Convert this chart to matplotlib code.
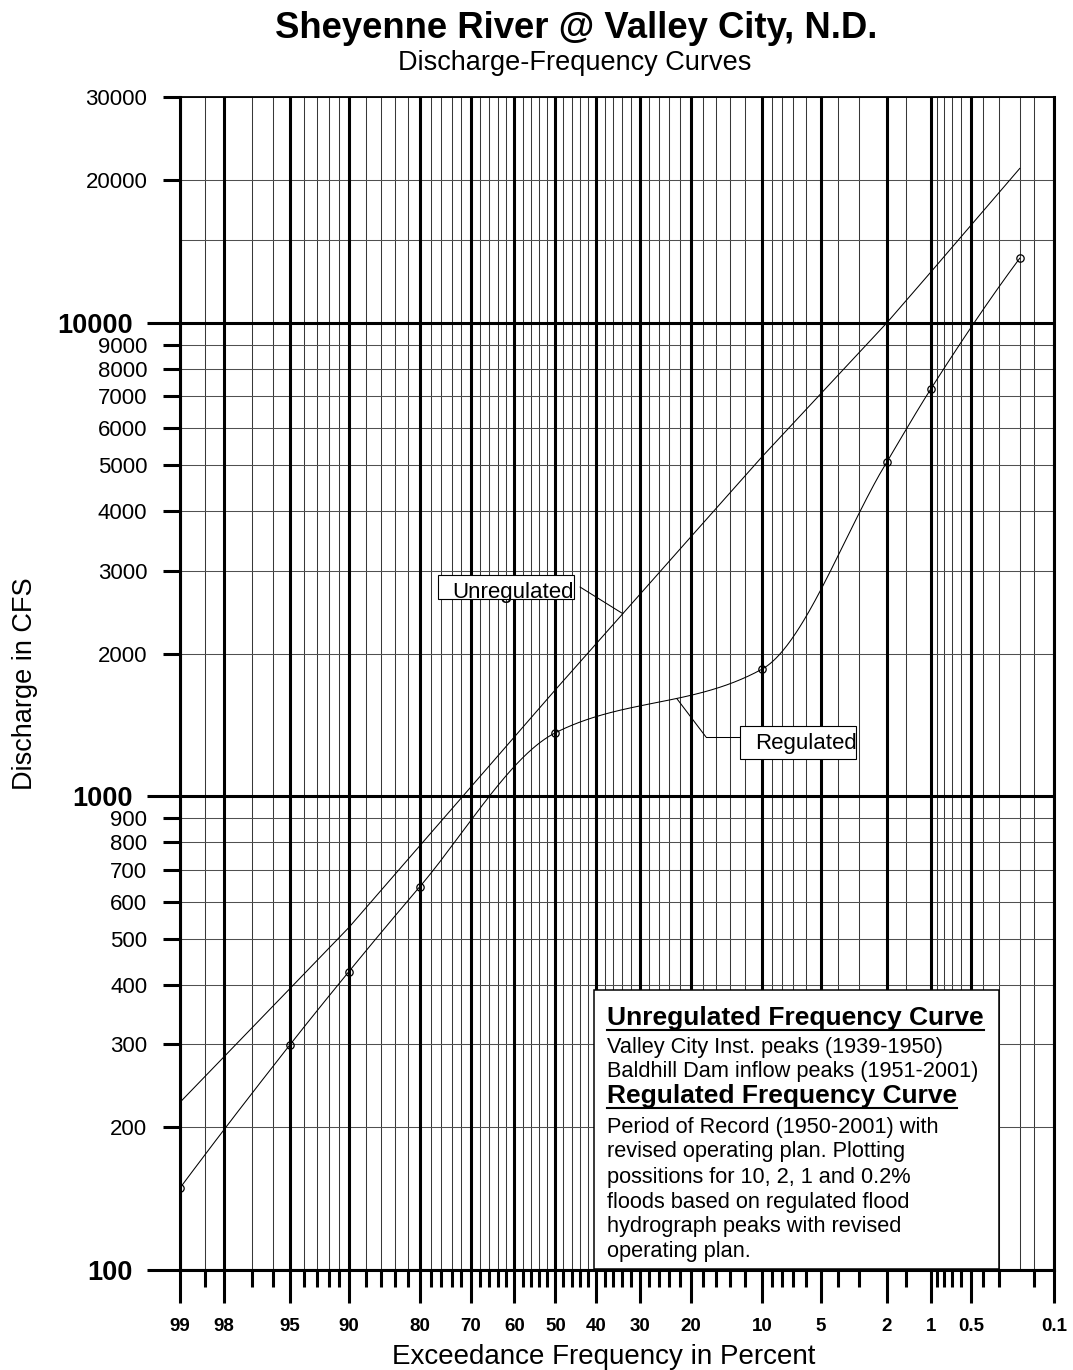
import matplotlib
matplotlib.use("Agg")
import matplotlib.pyplot as plt
import numpy as np
from statistics import NormalDist
from matplotlib.patches import Rectangle
from matplotlib.lines import Line2D

plt.rcParams['font.family'] = ['Liberation Sans', 'DejaVu Sans']

W, H = 1073, 1370

# regulated curve: plotted positions (exceedance %) and discharge (cfs)
reg_freq = [99, 95, 90, 80, 50, 10, 2, 1, 0.2]
regulated = [149, 299, 426, 644, 1363, 1858, 5085, 7250, 13700]

# unregulated frequency curve
unreg_freq = [99, 95, 90, 80, 50, 20, 10, 2, 1, 0.2]
unregulated = [226, 393, 528, 786, 1680, 3540, 5220, 10000, 12800, 21200]

# probability-paper grid
x_major = [99, 98, 95, 90, 80, 70, 60, 50, 40, 30, 20, 10, 5, 2, 1, 0.5, 0.1]
x_major_labels = ['99', '98', '95', '90', '80', '70', '60', '50', '40', '30',
                  '20', '10', '5', '2', '1', '0.5', '0.1']
x_minor = [98.5, 97, 96, 94, 93, 92, 91, 88, 86, 84, 82, 78, 76, 74, 72,
           68, 66, 64, 62, 58, 56, 54, 52, 48, 46, 44, 42, 38, 36, 34, 32,
           28, 26, 24, 22, 18, 16, 14, 12, 9, 8, 7, 6, 4, 3, 1.5,
           0.9, 0.8, 0.7, 0.6, 0.4, 0.3, 0.15]
x_grid_extra = [0.2]

y_major = [100, 1000, 10000]
y_minor = [200, 300, 400, 500, 600, 700, 800, 900,
           2000, 3000, 4000, 5000, 6000, 7000, 8000, 9000, 20000, 30000]
y_grid_extra = [15000]

nd = NormalDist()
_ppf = np.vectorize(nd.inv_cdf, otypes=[float])
_cdf = np.vectorize(nd.cdf, otypes=[float])


# normal-probability scale: exceedance percent -> standard normal deviate
def to_z(p):
    p = np.clip(np.asarray(p, dtype=float), 1e-7, 100 - 1e-7)
    return _ppf(p / 100.0)


def from_z(z):
    return 100.0 * _cdf(np.asarray(z, dtype=float))


def pchip(x, y, xs):
    # shape-preserving cubic through the points (Fritsch-Carlson slopes)
    x = np.asarray(x, float)
    y = np.asarray(y, float)
    order = np.argsort(x)
    x, y = x[order], y[order]
    n = len(x)
    h = np.diff(x)
    delta = np.diff(y) / h
    d = np.zeros(n)
    for k in range(1, n - 1):
        if delta[k - 1] * delta[k] > 0:
            w1 = 2 * h[k] + h[k - 1]
            w2 = h[k] + 2 * h[k - 1]
            d[k] = (w1 + w2) / (w1 / delta[k - 1] + w2 / delta[k])

    def end_slope(h0, h1, d0, d1):
        s = ((2 * h0 + h1) * d0 - h0 * d1) / (h0 + h1)
        if np.sign(s) != np.sign(d0):
            s = 0.0
        elif np.sign(d0) != np.sign(d1) and abs(s) > abs(3 * d0):
            s = 3 * d0
        return s

    d[0] = end_slope(h[0], h[1], delta[0], delta[1])
    d[-1] = end_slope(h[-1], h[-2], delta[-1], delta[-2])

    xs = np.asarray(xs, float)
    idx = np.clip(np.searchsorted(x, xs) - 1, 0, n - 2)
    t = (xs - x[idx]) / h[idx]
    h00 = 2 * t ** 3 - 3 * t ** 2 + 1
    h10 = t ** 3 - 2 * t ** 2 + t
    h01 = -2 * t ** 3 + 3 * t ** 2
    h11 = t ** 3 - t ** 2
    return (h00 * y[idx] + h10 * h[idx] * d[idx]
            + h01 * y[idx + 1] + h11 * h[idx] * d[idx + 1])


def fx(x):
    return x / W


def fy(y):
    return 1 - y / H


fig = plt.figure(figsize=(W / 100, H / 100), dpi=100)
ax = fig.add_axes([fx(180), fy(1270), (1054 - 180) / W, (1270 - 97) / H])

ax.set_xscale('function', functions=(to_z, from_z))
ax.set_yscale('log')
ax.set_xlim(99, 0.1)
ax.set_ylim(100, 30000)

# grid
for p in x_minor + x_grid_extra:
    ax.axvline(p, color='#383838', lw=0.75, zorder=1)
for p in x_major:
    ax.axvline(p, color='black', lw=2.2, zorder=1.1)
for q in y_minor + y_grid_extra:
    ax.axhline(q, color='#505050', lw=0.75, zorder=1)
for q in y_major:
    ax.axhline(q, color='black', lw=2.2, zorder=1.1)

# ticks
ax.set_xticks(x_major, x_major_labels, fontweight='bold')
ax.set_xticks(x_minor, minor=True)
ax.set_yticks(y_major, [str(v) for v in y_major], fontweight='bold')
ax.set_yticks(y_minor, [str(v) for v in y_minor], minor=True)
ax.tick_params(axis='x', which='major', direction='out', length=23.5, width=2.2,
               pad=11, labelsize=13.5)
ax.tick_params(axis='x', which='minor', direction='out', length=12, width=2.2)
ax.tick_params(axis='y', which='major', direction='out', length=23.5, width=2.2,
               pad=10.5, labelsize=19.5)
ax.tick_params(axis='y', which='minor', direction='out', length=12, width=2.2,
               pad=11.5, labelsize=16)

for side in ['left', 'bottom', 'right']:
    ax.spines[side].set_linewidth(2.2)
ax.spines['top'].set_linewidth(1.3)

# curves
ax.plot(unreg_freq, unregulated, color='black', lw=0.75, zorder=3)

z_reg = to_z(reg_freq)
log_reg = np.log10(regulated)
z_fine = np.linspace(z_reg.min(), z_reg.max(), 600)
log_fine = pchip(z_reg, log_reg, z_fine)
ax.plot(from_z(z_fine), 10 ** log_fine, color='black', lw=0.75, zorder=3)
ax.plot(reg_freq, regulated, 'o', mfc='none', mec='black', ms=5.3, mew=0.9,
        zorder=4)

# curve labels with leaders
p_un = 33.8
z_un = to_z(unreg_freq)[::-1]
q_un = 10 ** np.interp(to_z(p_un), z_un, np.log10(unregulated)[::-1])
ax.annotate('', xy=(p_un, q_un), xytext=(fx(580), fy(587)),
            textcoords='figure fraction',
            arrowprops=dict(arrowstyle='-', color='black', lw=0.75,
                            shrinkA=0, shrinkB=0))
fig.add_artist(Rectangle((fx(437.5), fy(599)), (574 - 437.5) / W, 24 / H,
                         transform=fig.transFigure, facecolor='white',
                         edgecolor='black', lw=0.8, zorder=3))
fig.text(fx(452.5), fy(598), 'Unregulated', fontsize=16, ha='left',
         va='baseline', zorder=4)

p_re = 22.6
q_re = 10 ** pchip(z_reg, log_reg, to_z([p_re]))[0]
ax.annotate('', xy=(p_re, q_re), xytext=(fx(706), fy(737)),
            textcoords='figure fraction',
            arrowprops=dict(arrowstyle='-', color='black', lw=0.75,
                            shrinkA=0, shrinkB=0))
fig.add_artist(Line2D([fx(706), fx(740)], [fy(737), fy(737)],
                      transform=fig.transFigure, color='black', lw=0.75))
fig.add_artist(Rectangle((fx(740), fy(759)), (856 - 740) / W, 33 / H,
                         transform=fig.transFigure, facecolor='white',
                         edgecolor='black', lw=0.8, zorder=3))
fig.text(fx(755), fy(749.5), 'Regulated', fontsize=16, ha='left',
         va='baseline', zorder=4)

# notes box
fig.add_artist(Rectangle((fx(594), fy(1268.5)), (998.5 - 594) / W, (1268.5 - 990) / H,
                         transform=fig.transFigure, facecolor='white',
                         edgecolor='black', lw=1.1, zorder=3))
notes = [
    ('Unregulated Frequency Curve', 1025, True),
    ('Valley City Inst. peaks (1939-1950)', 1053, False),
    ('Baldhill Dam inflow peaks (1951-2001)', 1077, False),
    ('Regulated Frequency Curve', 1103, True),
    ('Period of Record (1950-2001) with', 1133, False),
    ('revised operating plan. Plotting', 1157, False),
    ('possitions for 10, 2, 1 and 0.2%', 1183, False),
    ('floods based on regulated flood', 1208, False),
    ('hydrograph peaks with revised', 1232, False),
    ('operating plan.', 1257, False),
]
headings = []
for s, yb, bold in notes:
    t = fig.text(fx(607), fy(yb), s, fontsize=19 if bold else 15.7,
                 fontweight='bold' if bold else 'normal',
                 ha='left', va='baseline', zorder=4)
    if bold:
        headings.append((t, yb))

# titles and axis labels
fig.text(fx(576), fy(38), 'Sheyenne River @ Valley City, N.D.', fontsize=26.3,
         fontweight='bold', ha='center', va='baseline')
fig.text(fx(575), fy(70), 'Discharge-Frequency Curves', fontsize=19.5,
         ha='center', va='baseline')
fig.text(fx(604), fy(1364), 'Exceedance Frequency in Percent', fontsize=20,
         ha='center', va='baseline')
fig.text(fx(25), fy(684), 'Discharge in CFS', fontsize=19.5, rotation=90,
         ha='center', va='center')

# underline the headings
fig.canvas.draw()
for t, yb in headings:
    bb = t.get_window_extent()
    fig.add_artist(Line2D([bb.x0 / W, bb.x1 / W], [fy(yb + 5), fy(yb + 5)],
                          transform=fig.transFigure, color='black', lw=1.5,
                          zorder=4))

fig.savefig('out.png', dpi=100)
